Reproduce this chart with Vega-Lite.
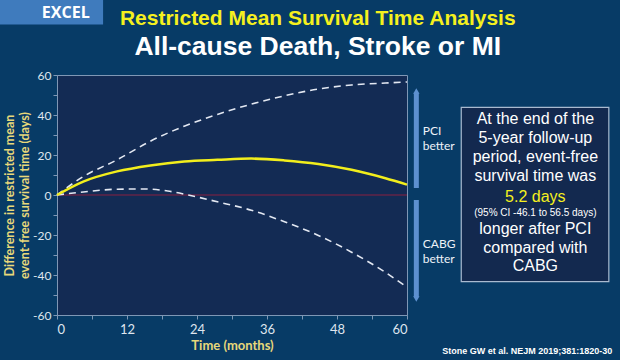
{
  "$schema": "https://vega.github.io/schema/vega-lite/v6.json",
  "autosize": "none",
  "width": 350,
  "height": 240,
  "padding": {"left": 57, "top": 75, "right": 213, "bottom": 45},
  "background": "#073b66",
  "config": {
    "view": {"fill": "#132b54", "stroke": "#7f97b5", "strokeWidth": 1},
    "font": "Lato",
    "axis": {"labelOverlap": false, "labelBound": false}
  },
  "datasets": {
    "curves": [
      {"t": 0, "series": "Estimate", "v": 0},
      {"t": 4.5, "series": "Estimate", "v": 6.7},
      {"t": 10.3, "series": "Estimate", "v": 11.8},
      {"t": 16, "series": "Estimate", "v": 14.8},
      {"t": 21.8, "series": "Estimate", "v": 16.8},
      {"t": 27.5, "series": "Estimate", "v": 17.6},
      {"t": 33.3, "series": "Estimate", "v": 18.2},
      {"t": 39, "series": "Estimate", "v": 17.3},
      {"t": 44.8, "series": "Estimate", "v": 15.5},
      {"t": 50.5, "series": "Estimate", "v": 12.6},
      {"t": 56.3, "series": "Estimate", "v": 8.4},
      {"t": 60, "series": "Estimate", "v": 5.2},
      {"t": 0, "series": "Upper", "v": 0},
      {"t": 4.5, "series": "Upper", "v": 9.2},
      {"t": 10.3, "series": "Upper", "v": 17.6},
      {"t": 16, "series": "Upper", "v": 26.9},
      {"t": 21.8, "series": "Upper", "v": 34.4},
      {"t": 27.5, "series": "Upper", "v": 40.3},
      {"t": 33.3, "series": "Upper", "v": 45.4},
      {"t": 39, "series": "Upper", "v": 49.6},
      {"t": 44.8, "series": "Upper", "v": 53},
      {"t": 50.5, "series": "Upper", "v": 55},
      {"t": 56.3, "series": "Upper", "v": 56},
      {"t": 60, "series": "Upper", "v": 56.5},
      {"t": 0, "series": "Lower", "v": 0},
      {"t": 4.5, "series": "Lower", "v": 1.5},
      {"t": 10.3, "series": "Lower", "v": 2.9},
      {"t": 14.9, "series": "Lower", "v": 3.0},
      {"t": 19, "series": "Lower", "v": 2.0},
      {"t": 22.5, "series": "Lower", "v": 0},
      {"t": 27.5, "series": "Lower", "v": -3.4},
      {"t": 33.3, "series": "Lower", "v": -7.6},
      {"t": 39, "series": "Lower", "v": -13.4},
      {"t": 44.8, "series": "Lower", "v": -20.2},
      {"t": 50.5, "series": "Lower", "v": -28.6},
      {"t": 56.3, "series": "Lower", "v": -38.7},
      {"t": 60, "series": "Lower", "v": -46.1}
    ],
    "one": [{}]
  },
  "encoding": {
    "y": {
      "type": "quantitative",
      "scale": {"domain": [-60, 60], "nice": false},
      "axis": {
        "values": [-60, -50, -40, -30, -20, -10, 0, 10, 20, 30, 40, 50, 60],
        "labelExpr": "abs(datum.value) % 20 == 0 ? toString(datum.value) : ''",
        "labelOverlap": false,
        "grid": false,
        "domainColor": "#7f97b5",
        "tickColor": "#7f97b5",
        "tickSize": 4,
        "labelColor": "#dfe5ee",
        "labelFontSize": 12,
        "labelPadding": 2,
        "title": ["Difference in restricted mean", "event-free survival time (days)"],
        "titleColor": "#e8d87a",
        "titleFontSize": 12.5,
        "titleFontWeight": "bold",
        "titlePadding": 1,
        "titleLineHeight": 15
      }
    },
    "x": {
      "type": "quantitative",
      "scale": {"domain": [0, 60], "nice": false},
      "axis": {
        "values": [0, 6, 12, 18, 24, 30, 36, 42, 48, 54, 60],
        "labelExpr": "datum.value % 12 == 0 ? datum.label : ''",
        "labelOverlap": false,
        "grid": false,
        "domainColor": "#7f97b5",
        "tickColor": "#7f97b5",
        "tickSize": 4,
        "labelColor": "#dfe5ee",
        "labelFontSize": 13,
        "labelPadding": 4,
        "title": "Time (months)",
        "titleColor": "#e8d87a",
        "titleFontSize": 13,
        "titleFontWeight": "bold",
        "titlePadding": 3
      }
    }
  },
  "layer": [
    {
      "data": {"name": "one"},
      "mark": {"type": "rule", "color": "#8a2040", "strokeWidth": 1},
      "encoding": {
        "y": {"datum": 0},
        "x": {"datum": 0},
        "x2": {"datum": 60}
      }
    },
    {
      "data": {"name": "curves"},
      "transform": [{"filter": "datum.series != 'Estimate'"}],
      "mark": {"type": "line", "interpolate": "monotone", "strokeDash": [7, 5], "strokeWidth": 1.6, "color": "#e3e8f2"},
      "encoding": {
        "x": {"field": "t"},
        "y": {"field": "v"},
        "detail": {"field": "series"}
      }
    },
    {
      "data": {"name": "curves"},
      "transform": [{"filter": "datum.series == 'Estimate'"}],
      "mark": {"type": "line", "interpolate": "monotone", "strokeWidth": 2.5, "color": "#f2ee1c"},
      "encoding": {
        "x": {"field": "t"},
        "y": {"field": "v"}
      }
    },
    {
      "data": {"name": "one"},
      "mark": {"type": "rule", "clip": false, "color": "#5d90d0", "strokeWidth": 5},
      "encoding": {
        "x": {"datum": 61.6},
        "y": {"datum": 51},
        "y2": {"datum": 3.5}
      }
    },
    {
      "data": {"name": "one"},
      "mark": {"type": "rule", "clip": false, "color": "#5d90d0", "strokeWidth": 5},
      "encoding": {
        "x": {"datum": 61.6},
        "y": {"datum": -2.5},
        "y2": {"datum": -51}
      }
    },
    {
      "data": {"name": "one"},
      "mark": {"type": "point", "clip": false, "shape": "triangle-up", "filled": true, "color": "#5d90d0", "size": 40, "opacity": 1},
      "encoding": {
        "x": {"datum": 61.6},
        "y": {"datum": 52}
      }
    },
    {
      "data": {"name": "one"},
      "mark": {"type": "point", "clip": false, "shape": "triangle-down", "filled": true, "color": "#5d90d0", "size": 40, "opacity": 1},
      "encoding": {
        "x": {"datum": 61.6},
        "y": {"datum": -52}
      }
    },
    {
      "data": {"name": "one"},
      "mark": {"type": "text", "clip": false, "align": "left", "baseline": "middle", "color": "#eef2f8", "fontSize": 12, "lineHeight": 15, "text": ["PCI", "better"]},
      "encoding": {
        "x": {"datum": 62.7},
        "y": {"datum": 32}
      }
    },
    {
      "data": {"name": "one"},
      "mark": {"type": "text", "clip": false, "align": "left", "baseline": "middle", "color": "#eef2f8", "fontSize": 12, "lineHeight": 15, "text": ["CABG", "better"]},
      "encoding": {
        "x": {"datum": 62.7},
        "y": {"datum": -24.7}
      }
    },
    {
      "data": {"name": "one"},
      "mark": {"type": "rect", "clip": false, "fill": "#13294f", "stroke": "#a9bad0", "strokeWidth": 1.2},
      "encoding": {
        "x": {"datum": 69.3},
        "x2": {"datum": 94.6},
        "y": {"datum": 43.8},
        "y2": {"datum": -43.3}
      }
    },
    {
      "data": {"name": "one"},
      "mark": {"type": "text", "clip": false, "align": "center", "baseline": "middle", "font": "Liberation Sans", "color": "#ffffff", "fontSize": 16, "lineHeight": 19, "text": ["At the end of the", "5-year follow-up", "period, event-free", "survival time was"]},
      "encoding": {
        "x": {"datum": 82},
        "y": {"datum": 37.8}
      }
    },
    {
      "data": {"name": "one"},
      "mark": {"type": "text", "clip": false, "align": "center", "baseline": "middle", "font": "Liberation Sans", "color": "#f5f01e", "fontSize": 16, "text": "5.2 days"},
      "encoding": {
        "x": {"datum": 82},
        "y": {"datum": -1}
      }
    },
    {
      "data": {"name": "one"},
      "mark": {"type": "text", "clip": false, "align": "center", "baseline": "middle", "font": "Liberation Sans", "color": "#ffffff", "fontSize": 10, "text": "(95% CI -46.1 to 56.5 days)"},
      "encoding": {
        "x": {"datum": 82},
        "y": {"datum": -9.1}
      }
    },
    {
      "data": {"name": "one"},
      "mark": {"type": "text", "clip": false, "align": "center", "baseline": "middle", "font": "Liberation Sans", "color": "#ffffff", "fontSize": 16, "lineHeight": 18.5, "text": ["longer after PCI", "compared with", "CABG"]},
      "encoding": {
        "x": {"datum": 82},
        "y": {"datum": -17.1}
      }
    },
    {
      "data": {"name": "one"},
      "mark": {"type": "text", "clip": false, "align": "right", "baseline": "middle", "font": "Liberation Sans", "fontWeight": "bold", "color": "#ffffff", "fontSize": 9, "text": "Stone GW et al. NEJM 2019;381:1820-30"},
      "encoding": {
        "x": {"datum": 95.2},
        "y": {"datum": -78.2}
      }
    },
    {
      "data": {"name": "one"},
      "mark": {"type": "rect", "clip": false, "fill": "#3f7bbd"},
      "encoding": {
        "x": {"datum": -9.8},
        "x2": {"datum": 7.9},
        "y": {"datum": 99},
        "y2": {"datum": 85.3}
      }
    },
    {
      "data": {"name": "one"},
      "mark": {"type": "text", "clip": false, "align": "center", "baseline": "middle", "font": "Open Sans", "fontWeight": "bold", "color": "#ffffff", "fontSize": 16, "text": "EXCEL"},
      "encoding": {
        "x": {"datum": 1.5},
        "y": {"datum": 91.2}
      }
    },
    {
      "data": {"name": "one"},
      "mark": {"type": "text", "clip": false, "align": "center", "baseline": "middle", "font": "Liberation Sans", "fontWeight": "bold", "color": "#f5f01e", "fontSize": 21, "text": "Restricted Mean Survival Time Analysis"},
      "encoding": {
        "x": {"datum": 44.7},
        "y": {"datum": 88.2}
      }
    },
    {
      "data": {"name": "one"},
      "mark": {"type": "text", "clip": false, "align": "center", "baseline": "middle", "font": "Liberation Sans", "fontWeight": "bold", "color": "#ffffff", "fontSize": 26.5, "text": "All-cause Death, Stroke or MI"},
      "encoding": {
        "x": {"datum": 44.7},
        "y": {"datum": 74.1}
      }
    }
  ]
}
